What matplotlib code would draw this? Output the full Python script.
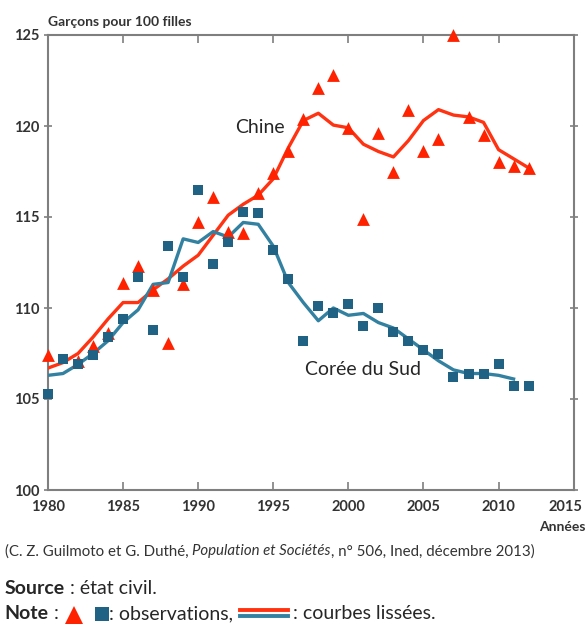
import matplotlib
matplotlib.use('Agg')
import matplotlib.pyplot as plt
import matplotlib.transforms as mtransforms
from matplotlib.lines import Line2D

plt.rcParams['font.family'] = ['Lato', 'DejaVu Sans']

# observations
chine_annees = [1980, 1982, 1983, 1984, 1985, 1986, 1987, 1988, 1989, 1990,
                1991, 1992, 1993, 1994, 1995, 1996, 1997, 1998, 1999, 2000,
                2001, 2002, 2003, 2004, 2005, 2006, 2007, 2008, 2009, 2010,
                2011, 2012]
chine_obs = [107.4, 107.1, 107.9, 108.6, 111.4, 112.3, 111.0, 108.1, 111.3, 114.7,
             116.1, 114.2, 114.1, 116.3, 117.4, 118.6, 120.4, 122.1, 122.8, 119.9,
             114.9, 119.6, 117.5, 120.9, 118.6, 119.3, 125.0, 120.5, 119.5, 118.0,
             117.8, 117.7]

coree_annees = list(range(1980, 2013))
coree_obs = [105.3, 107.2, 106.9, 107.4, 108.4, 109.4, 111.7, 108.8, 113.4, 111.7,
             116.5, 112.4, 113.6, 115.3, 115.2, 113.2, 111.6, 108.2, 110.1, 109.7,
             110.2, 109.0, 110.0, 108.7, 108.2, 107.7, 107.5, 106.2, 106.4, 106.4,
             106.9, 105.7, 105.7]

# courbes lissees
chine_liss_annees = list(range(1980, 2013))
chine_liss = [106.7, 107.0, 107.5, 108.4, 109.4, 110.3, 110.3, 111.0, 111.6, 112.3,
              112.9, 114.0, 115.1, 115.7, 116.2, 117.1, 118.8, 120.3, 120.7, 120.05,
              119.9, 119.0, 118.6, 118.3, 119.2, 120.3, 120.9, 120.6, 120.5, 120.2,
              118.7, 118.2, 117.7]

coree_liss_annees = list(range(1980, 2012))
coree_liss = [106.3, 106.4, 106.9, 107.5, 108.2, 109.2, 109.9, 111.3, 111.4, 113.8,
              113.6, 114.2, 113.9, 114.7, 114.6, 113.4, 111.4, 110.3, 109.3, 110.0,
              109.6, 109.7, 109.2, 108.9, 108.3, 107.7, 107.1, 106.6, 106.4, 106.4,
              106.3, 106.1]

xticks = [1980, 1985, 1990, 1995, 2000, 2005, 2010, 2015]
yticks = [100, 105, 110, 115, 120, 125]

rouge = '#FF2200'
rouge_ligne = '#FF3311'
bleu = '#1F6283'
bleu_ligne = '#3381A1'
gris = '#7F7F7F'
texte = '#262626'

fig = plt.figure(figsize=(5.88, 6.25), dpi=100)
ax = fig.add_axes([0.0816, 0.216, 0.894, 0.728])

ax.plot(chine_liss_annees, chine_liss, color=rouge_ligne, lw=2.4, zorder=3)
ax.plot(coree_liss_annees, coree_liss, color=bleu_ligne, lw=2.4, zorder=3)
ax.scatter(chine_annees, chine_obs, marker='^', s=85, color=rouge, zorder=4,
           linewidths=0, clip_on=False)
ax.scatter(coree_annees, coree_obs, marker='s', s=50, color=bleu, zorder=4,
           linewidths=0, clip_on=False)

ax.set_xlim(1980, 2015)
ax.set_ylim(100, 125)
ax.set_xticks(xticks)
ax.set_yticks(yticks)
for s in ax.spines.values():
    s.set_color(gris)
    s.set_linewidth(1.5)
ax.tick_params(axis='both', direction='in', color=gris, width=1.2, length=6,
               top=True, right=True, labelsize=10.5, labelcolor='#333333')
ax.tick_params(axis='y', direction='inout', left=True, right=True)
for lab in ax.get_xticklabels() + ax.get_yticklabels():
    lab.set_fontweight('bold')
ax.tick_params(axis='x', pad=7)
ax.tick_params(axis='y', pad=3)
# 2015 un peu vers la gauche pour rester dans l'image
lab2015 = ax.get_xticklabels()[-1]
lab2015.set_transform(lab2015.get_transform() +
                      mtransforms.ScaledTranslation(-6 / 72, 0, fig.dpi_scale_trans))

ax.text(1994.1, 119.9, 'Chine', fontsize=14, color=texte, ha='center', va='center')
ax.text(2001.0, 106.6, 'Corée du Sud', fontsize=14, color=texte, ha='center', va='center')

fig.text(0.082, 0.964, 'Garçons pour 100 filles', fontsize=10, fontweight='bold',
         color='#333333', va='center')
fig.text(0.996, 0.157, 'Années', fontsize=10, fontweight='bold', color='#333333',
         ha='right', va='center')

# citation
c1 = fig.text(0.008, 0.118, '(C. Z. Guilmoto et G. Duthé, ', fontsize=10.8,
              color='#333333', va='center')
c2 = plt.annotate('Population et Sociétés', xy=(1, 0.5), xycoords=c1, fontsize=10.8,
                  style='italic', color='#333333', va='center')
plt.annotate(', n° 506, Ined, décembre 2013)', xy=(1, 0.5), xycoords=c2,
             fontsize=10.8, color='#333333', va='center')

# source
s1 = fig.text(0.008, 0.058, 'Source', fontsize=14, fontweight='bold', color=texte, va='center')
plt.annotate(' : état civil.', xy=(1, 0.5), xycoords=s1, fontsize=14,
             color=texte, va='center')

# note
n1 = fig.text(0.008, 0.018, 'Note', fontsize=14, fontweight='bold', color=texte, va='center')
n2 = plt.annotate(' :', xy=(1, 0.5), xycoords=n1, fontsize=14, color=texte, va='center')
n3 = plt.annotate('          ', xy=(1, 0.5), xycoords=n2, fontsize=14, color=texte,
                  va='center')
n5 = plt.annotate(': observations, ', xy=(1, 0.5), xycoords=n3, fontsize=14,
                  color=texte, va='center')
n6 = plt.annotate('           ', xy=(1, 0.5), xycoords=n5, fontsize=14,
                  color=texte, va='center')
n7 = plt.annotate(': courbes lissées.', xy=(1, 0.5), xycoords=n6, fontsize=14,
                  color=texte, va='center')

fig.canvas.draw()
r = fig.canvas.get_renderer()
W, H = fig.bbox.width, fig.bbox.height

# symboles des observations
bm = n3.get_window_extent(r)
ym = (bm.y0 + bm.y1) / 2 / H
fig.add_artist(Line2D([(bm.x0 + 15) / W], [ym - 0.0015], marker='^', markersize=13,
                      color=rouge, lw=0, markeredgewidth=0))
fig.add_artist(Line2D([(bm.x1 - 7) / W], [ym - 0.001], marker='s', markersize=9.5,
                      color=bleu, lw=0, markeredgewidth=0))

# traits des courbes lissees
bb = n6.get_window_extent(r)
x0 = (bb.x0 + 2) / W
x1 = (bb.x1 - 5) / W
yc = (bb.y0 + bb.y1) / 2 / H
fig.add_artist(Line2D([x0, x1], [yc + 0.006, yc + 0.006], color=rouge_ligne, lw=2.8))
fig.add_artist(Line2D([x0, x1], [yc - 0.004, yc - 0.004], color=bleu_ligne, lw=2.8))

fig.savefig('out.png', dpi=100)
